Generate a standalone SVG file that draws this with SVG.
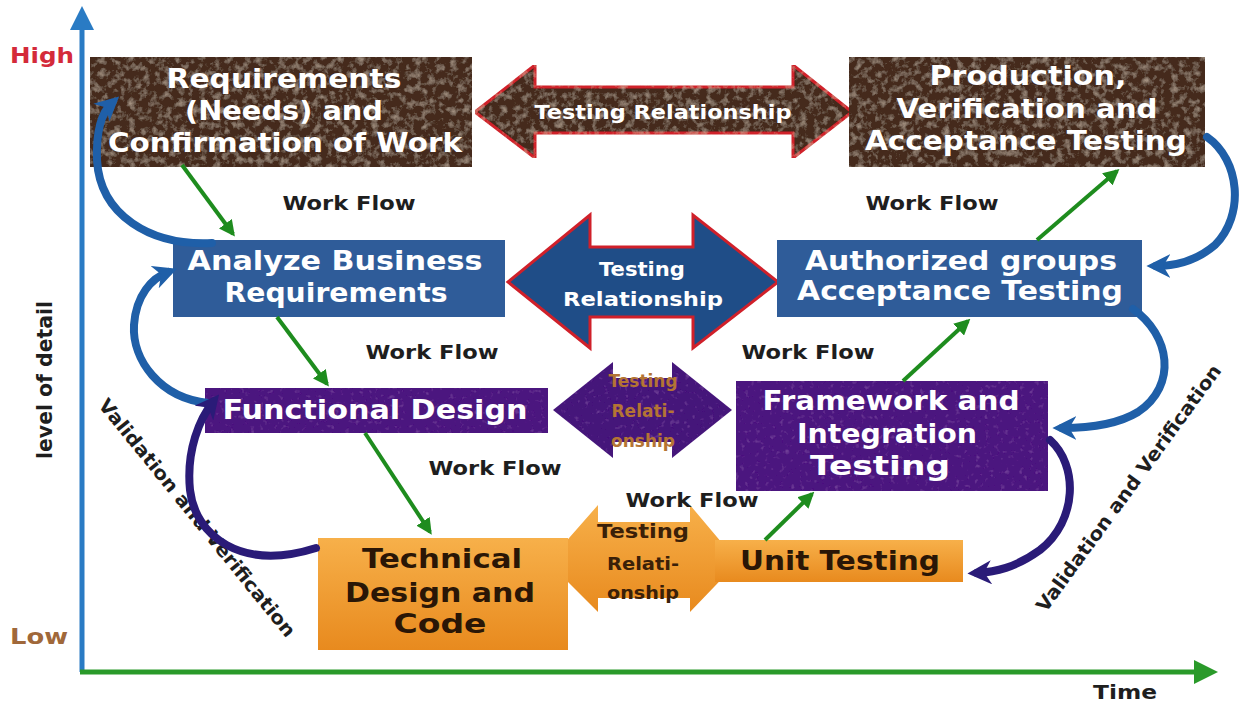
<svg xmlns="http://www.w3.org/2000/svg" width="1247" height="702" viewBox="0 0 1247 702">
<defs>
<style>
.t{font-family:"DejaVu Sans","Liberation Sans",sans-serif;font-weight:bold;text-anchor:middle}
.w{fill:#ffffff}
.wf{font-family:"DejaVu Sans","Liberation Sans",sans-serif;font-weight:bold;font-size:19px;fill:#1e1e1e;text-anchor:middle}
.g{stroke:#1E8C1E;stroke-width:4;fill:none}
.lb{fill:none;stroke:#1F5FA8;stroke-width:8;stroke-linecap:round}
.ln{fill:none;stroke:#2A1B78;stroke-width:8;stroke-linecap:round}
</style>
<filter id="rock" x="0" y="0" width="100%" height="100%">
<feTurbulence type="fractalNoise" baseFrequency="0.14" numOctaves="4" seed="7" result="n"/>
<feColorMatrix in="n" type="matrix" values="0 0 0 0 0.58 0 0 0 0 0.46 0 0 0 0 0.36 0 0 0 1.3 -0.62" result="sp"/>
<feComposite in="sp" in2="SourceGraphic" operator="in" result="s2"/>
<feMerge><feMergeNode in="SourceGraphic"/><feMergeNode in="s2"/></feMerge>
</filter>
<filter id="mot" x="0" y="0" width="100%" height="100%">
<feTurbulence type="fractalNoise" baseFrequency="0.2" numOctaves="2" seed="2" result="n"/>
<feColorMatrix in="n" type="matrix" values="0 0 0 0 0.5 0 0 0 0 0.2 0 0 0 0 0.7 0 0 0 0.7 -0.42" result="sp"/>
<feComposite in="sp" in2="SourceGraphic" operator="in" result="s2"/>
<feMerge><feMergeNode in="SourceGraphic"/><feMergeNode in="s2"/></feMerge>
</filter>
<linearGradient id="org" x1="0" y1="0" x2="0" y2="1">
<stop offset="0" stop-color="#F7B04A"/><stop offset="1" stop-color="#E88A1E"/>
</linearGradient>
<marker id="ga" viewBox="0 0 10 10" refX="8" refY="5" markerWidth="4" markerHeight="4" orient="auto" markerUnits="strokeWidth">
<path d="M0,0 L10,5 L0,10 Z" fill="#1E8C1E"/>
</marker>
<marker id="ba" viewBox="0 0 10 10" refX="6" refY="5" markerWidth="3" markerHeight="3" orient="auto" markerUnits="strokeWidth">
<path d="M0,0 L10,5 L0,10 L3,5 Z" fill="#1F5FA8"/>
</marker>
<marker id="na" viewBox="0 0 10 10" refX="6" refY="5" markerWidth="3" markerHeight="3" orient="auto" markerUnits="strokeWidth">
<path d="M0,0 L10,5 L0,10 L3,5 Z" fill="#2A1B78"/>
</marker>
</defs>
<rect width="1247" height="702" fill="#ffffff"/>

<g id="axes">
<line x1="82" y1="672" x2="82" y2="24" stroke="#2A7BC4" stroke-width="5"/>
<polygon points="70,30 82,6 94,30" fill="#2A7BC4"/>
<line x1="80" y1="672" x2="1196" y2="672" stroke="#2A9A2A" stroke-width="5"/>
<polygon points="1194,660 1218,672 1194,684" fill="#2A9A2A"/>
<text x="42" y="63" class="t" font-size="21" fill="#D42A3A" textLength="64" lengthAdjust="spacingAndGlyphs">High</text>
<text x="39" y="644" class="t" font-size="21" fill="#A0683A" textLength="58" lengthAdjust="spacingAndGlyphs">Low</text>
<text x="1125" y="699" class="wf" textLength="64" lengthAdjust="spacingAndGlyphs">Time</text>
<text transform="translate(52,380) rotate(-90)" class="t" font-size="21" fill="#1e1e1e" textLength="158" lengthAdjust="spacingAndGlyphs">level of detail</text>
<text transform="translate(192,522) rotate(51)" class="t" font-size="19" fill="#1e1e1e" textLength="300" lengthAdjust="spacingAndGlyphs">Validation and Verification</text>
<text transform="translate(1134,492) rotate(-54)" class="t" font-size="19" fill="#1e1e1e" textLength="300" lengthAdjust="spacingAndGlyphs">Validation and Verification</text>
</g>

<g id="rel-arrows">
<g id="rel-top">
<polygon points="475,112 535,65 535,87 793,87 793,65 852,112 793,158 793,133 535,133 535,158" fill="#45291A" stroke="#D0202A" stroke-width="3" filter="url(#rock)"/>
<text x="663" y="119" class="t w" font-size="20" textLength="257" lengthAdjust="spacingAndGlyphs">Testing Relationship</text>
</g>
<g id="rel-mid">
<polygon points="508,282 590,215 590,247 693,247 693,215 778,282 693,348 693,317 590,317 590,348" fill="#1F4D87" stroke="#D0202A" stroke-width="3"/>
<text x="642" y="276" class="t w" font-size="20" textLength="86" lengthAdjust="spacingAndGlyphs">Testing</text>
<text x="643" y="306" class="t w" font-size="20" textLength="160" lengthAdjust="spacingAndGlyphs">Relationship</text>
</g>
<g id="rel-low">
<polygon points="553,410 613,362 613,378 672,378 672,362 732,410 672,458 672,442 613,442 613,458" fill="#45147A" filter="url(#mot)"/>
<text x="643" y="387" class="t" font-size="17" fill="#B47434">Testing</text>
<text x="643" y="417" class="t" font-size="17" fill="#B47434">Relati-</text>
<text x="643" y="447" class="t" font-size="17" fill="#B47434">onship</text>
</g>
<g id="rel-bottom">
<polygon points="548,562 598,505 598,522 690,522 690,505 738,562 690,612 690,598 598,598 598,612" fill="url(#org)"/>
<text x="643" y="538" class="t" font-size="19" fill="#3A2008" textLength="92" lengthAdjust="spacingAndGlyphs">Testing</text>
<text x="643" y="570" class="t" font-size="17" fill="#3A2008" textLength="72" lengthAdjust="spacingAndGlyphs">Relati-</text>
<text x="643" y="599" class="t" font-size="17" fill="#3A2008" textLength="72" lengthAdjust="spacingAndGlyphs">onship</text>
</g>
</g>

<g id="n-req">
<rect x="90" y="57" width="382" height="110" fill="#45291A" filter="url(#rock)"/>
<text x="284" y="88" class="t w" font-size="26" textLength="235" lengthAdjust="spacingAndGlyphs">Requirements</text>
<text x="284" y="120" class="t w" font-size="26" textLength="198" lengthAdjust="spacingAndGlyphs">(Needs) and</text>
<text x="285" y="152" class="t w" font-size="26" textLength="354" lengthAdjust="spacingAndGlyphs">Confirmation of Work</text>
</g>
<g id="n-prod">
<rect x="849" y="57" width="356" height="110" fill="#45291A" filter="url(#rock)"/>
<text x="1028" y="85" class="t w" font-size="26" textLength="197" lengthAdjust="spacingAndGlyphs">Production,</text>
<text x="1027" y="118" class="t w" font-size="26" textLength="261" lengthAdjust="spacingAndGlyphs">Verification and</text>
<text x="1026" y="150" class="t w" font-size="26" textLength="322" lengthAdjust="spacingAndGlyphs">Acceptance Testing</text>
</g>
<g id="n-analyze">
<rect x="173" y="240" width="332" height="77" fill="#2F5C99"/>
<text x="335" y="270" class="t w" font-size="26" textLength="295" lengthAdjust="spacingAndGlyphs">Analyze Business</text>
<text x="336" y="302" class="t w" font-size="26" textLength="223" lengthAdjust="spacingAndGlyphs">Requirements</text>
</g>
<g id="n-auth">
<rect x="777" y="240" width="365" height="77" fill="#2F5C99"/>
<text x="961" y="270" class="t w" font-size="26" textLength="312" lengthAdjust="spacingAndGlyphs">Authorized groups</text>
<text x="960" y="300" class="t w" font-size="26" textLength="326" lengthAdjust="spacingAndGlyphs">Acceptance Testing</text>
</g>
<g id="n-func">
<rect x="205" y="388" width="343" height="45" fill="#4B167F" filter="url(#mot)"/>
<text x="375" y="419" class="t w" font-size="26" textLength="305" lengthAdjust="spacingAndGlyphs">Functional Design</text>
</g>
<g id="n-frame">
<rect x="736" y="381" width="312" height="110" fill="#4B167F" filter="url(#mot)"/>
<text x="891" y="410" class="t w" font-size="26" textLength="257" lengthAdjust="spacingAndGlyphs">Framework and</text>
<text x="887" y="443" class="t w" font-size="26" textLength="180" lengthAdjust="spacingAndGlyphs">Integration</text>
<text x="880" y="475" class="t w" font-size="26" textLength="140" lengthAdjust="spacingAndGlyphs">Testing</text>
</g>
<g id="n-tech">
<rect x="318" y="538" width="250" height="112" fill="url(#org)"/>
<text x="442" y="568" class="t" font-size="27" fill="#2A1606" textLength="160" lengthAdjust="spacingAndGlyphs">Technical</text>
<text x="440" y="602" class="t" font-size="27" fill="#2A1606" textLength="190" lengthAdjust="spacingAndGlyphs">Design and</text>
<text x="440" y="633" class="t" font-size="27" fill="#2A1606" textLength="93" lengthAdjust="spacingAndGlyphs">Code</text>
</g>
<g id="n-unit">
<rect x="715" y="540" width="248" height="42" fill="url(#org)"/>
<text x="840" y="570" class="t" font-size="27" fill="#2A1606" textLength="200" lengthAdjust="spacingAndGlyphs">Unit Testing</text>
</g>

<g id="connectors">
<line class="g" x1="182" y1="165" x2="233" y2="234" marker-end="url(#ga)"/>
<line class="g" x1="277" y1="317" x2="327" y2="384" marker-end="url(#ga)"/>
<line class="g" x1="365" y1="433" x2="430" y2="532" marker-end="url(#ga)"/>
<line class="g" x1="765" y1="540" x2="812" y2="494" marker-end="url(#ga)"/>
<line class="g" x1="903" y1="381" x2="968" y2="321" marker-end="url(#ga)"/>
<line class="g" x1="1037" y1="240" x2="1117" y2="171" marker-end="url(#ga)"/>

<path class="lb" d="M212,243 C150,246 100,215 97,160 C96,130 102,112 112,103" marker-end="url(#ba)"/>
<path class="lb" d="M208,403 C160,398 132,360 134,325 C136,295 152,278 168,272" marker-end="url(#ba)"/>
<path class="ln" d="M316,548 C240,572 195,535 190,490 C186,450 200,418 213,402" marker-end="url(#na)"/>
<path class="lb" d="M1207,137 C1240,160 1245,215 1215,245 C1195,262 1175,266 1156,266" marker-end="url(#ba)"/>
<path class="lb" d="M1133,309 C1170,335 1178,385 1138,412 C1115,426 1085,428 1062,428" marker-end="url(#ba)"/>
<path class="ln" d="M1050,440 C1078,465 1078,520 1040,550 C1015,568 995,572 977,573" marker-end="url(#na)"/>

<text x="349" y="210" class="wf" textLength="133" lengthAdjust="spacingAndGlyphs">Work Flow</text>
<text x="932" y="210" class="wf" textLength="133" lengthAdjust="spacingAndGlyphs">Work Flow</text>
<text x="432" y="359" class="wf" textLength="133" lengthAdjust="spacingAndGlyphs">Work Flow</text>
<text x="808" y="359" class="wf" textLength="133" lengthAdjust="spacingAndGlyphs">Work Flow</text>
<text x="495" y="475" class="wf" textLength="133" lengthAdjust="spacingAndGlyphs">Work Flow</text>
<text x="692" y="507" class="wf" textLength="133" lengthAdjust="spacingAndGlyphs">Work Flow</text>
</g>
</svg>
